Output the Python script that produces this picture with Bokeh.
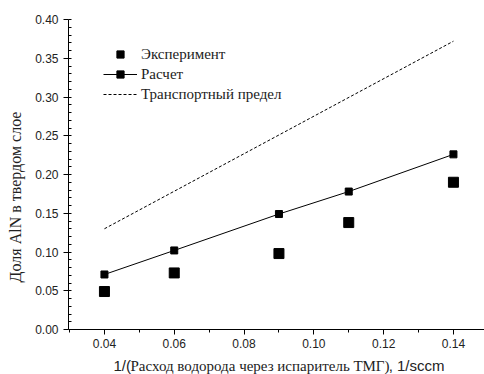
from bokeh.plotting import figure
from bokeh.models import (FixedTicker, NumeralTickFormatter, Legend, LegendItem,
                          Label, Range1d)
from bokeh.embed import file_html
from bokeh.resources import INLINE

# data
x_exp = [0.04, 0.06, 0.09, 0.11, 0.14]
y_exp = [0.049, 0.073, 0.098, 0.138, 0.190]
x_calc = [0.04, 0.06, 0.09, 0.11, 0.14]
y_calc = [0.071, 0.102, 0.149, 0.178, 0.226]
x_trans = [0.04, 0.14]
y_trans = [0.130, 0.372]
x_ticks = [0.04, 0.06, 0.08, 0.10, 0.12, 0.14]
x_minor = [0.03, 0.05, 0.07, 0.09, 0.11, 0.13, 0.15]
y_ticks = [0.00, 0.05, 0.10, 0.15, 0.20, 0.25, 0.30, 0.35, 0.40]
y_minor = [i / 100 for i in range(0, 41)]

SERIF = "Liberation Serif"
SANS = "Liberation Sans"

# frame reaches the bottom of the canvas so the mixed-font x title can sit in it
y_per_px = 0.40 / 310.0
p = figure(width=484, height=374, output_backend="svg", toolbar_location=None,
           x_range=Range1d(0.0297, 0.1489),
           y_range=Range1d(-45 * y_per_px, 0.40),
           min_border_left=68, min_border_right=0, min_border_top=19,
           min_border_bottom=0)
p.outline_line_color = None
p.xgrid.visible = False
p.ygrid.visible = False
p.background_fill_color = "white"

r_trans = p.line(x_trans, y_trans, line_color="black", line_width=1,
                 line_dash="3 2")
r_calc_line = p.line(x_calc, y_calc, line_color="black", line_width=1)
r_calc_pts = p.scatter(x_calc, y_calc, marker="square", size=7,
                       fill_color="black", line_color="black")
r_exp = p.scatter(x_exp, y_exp, marker="square", size=10,
                  fill_color="black", line_color="black")

# axes
for ax in (p.xaxis[0], p.yaxis[0]):
    ax.axis_line_color = "black"
    ax.major_tick_line_color = "black"
    ax.minor_tick_line_color = "black"
    ax.major_label_text_font = SANS
    ax.major_label_text_font_size = "12px"
    ax.major_label_text_color = "#222222"
    ax.formatter = NumeralTickFormatter(format="0.00")

p.xaxis.fixed_location = 0.0
p.xaxis.ticker = FixedTicker(ticks=x_ticks, minor_ticks=x_minor)
p.xaxis.major_tick_in = 0
p.xaxis.major_tick_out = 5
p.xaxis.minor_tick_in = 0
p.xaxis.minor_tick_out = 3
p.xaxis.major_label_standoff = 4

p.yaxis.bounds = (0.0, 0.40)
p.yaxis.ticker = FixedTicker(ticks=y_ticks, minor_ticks=y_minor)
p.yaxis.major_tick_in = 0
p.yaxis.major_tick_out = 5
p.yaxis.minor_tick_in = 3
p.yaxis.minor_tick_out = 0
p.yaxis.major_label_standoff = 5
p.yaxis.axis_label = "Доля AlN в твердом слое"
p.yaxis.axis_label_text_font = SERIF
p.yaxis.axis_label_text_font_size = "16px"
p.yaxis.axis_label_text_font_style = "normal"
p.yaxis.axis_label_text_color = "#222222"
p.yaxis.axis_label_standoff = 8

# x-axis title in mixed fonts
lab_kw = dict(x_units="screen", y_units="screen", text_color="#222222",
              text_font_size="15px", text_baseline="alphabetic")
p.add_layout(Label(x=45, y=9, text="1/(", text_font=SANS, text_align="left", **lab_kw))
p.add_layout(Label(x=62, y=9, text="Расход водорода через испаритель ТМГ)",
                   text_font=SERIF, text_align="left", **lab_kw))
p.add_layout(Label(x=376, y=9, text=", 1/sccm", text_font=SANS,
                   text_align="right", **lab_kw))

legend = Legend(items=[
    LegendItem(label="Эксперимент", renderers=[r_exp]),
    LegendItem(label="Расчет", renderers=[r_calc_line, r_calc_pts]),
    LegendItem(label="Транспортный предел", renderers=[r_trans]),
], location=(35, 271))
legend.border_line_color = None
legend.background_fill_alpha = 0
legend.padding = 0
legend.margin = 0
legend.spacing = 2
legend.glyph_width = 34
legend.glyph_height = 18
legend.label_height = 18
legend.label_standoff = 4
legend.label_text_font = SERIF
legend.label_text_font_size = "15px"
legend.label_text_color = "#222222"
p.add_layout(legend)

open("out.html", "w").write(file_html(p, INLINE))
